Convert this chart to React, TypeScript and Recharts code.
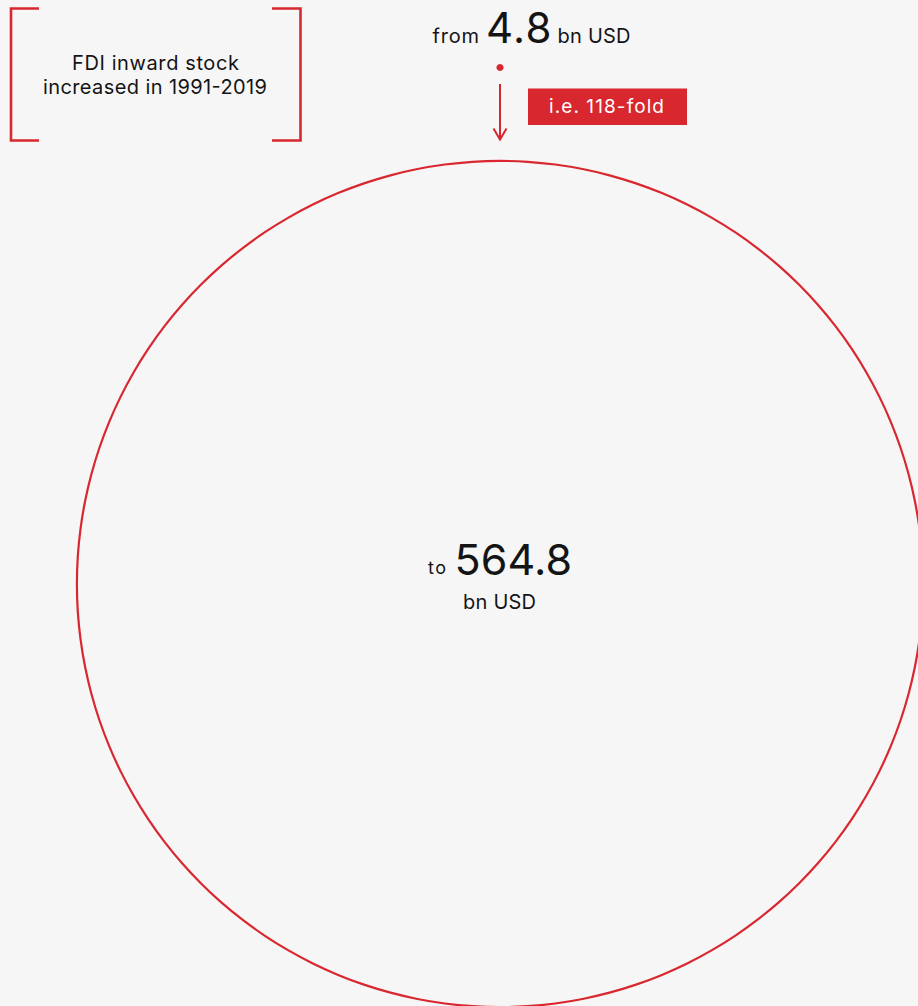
import React from 'react';
import { PieChart, Pie } from 'recharts';

// ---- data ----
const years = ['1991', '2019'];
const stockValues = [4.8, 564.8]; // bn USD
const unitLabel = 'bn USD';
const titleLines = ['FDI inward stock', `increased in ${years[0]}-${years[1]}`];
const foldFactor = Math.round(stockValues[1] / stockValues[0]);

const fromData = [{ name: years[0], value: stockValues[0] }];
const toData = [{ name: years[1], value: stockValues[1] }];

const W = 918;
const H = 1006;
const RED = '#d9272f';
const INK = '#141414';
const BG = '#f6f6f6';
const FONT = 'Inter, "Noto Sans", sans-serif';

const T = (props: any) => (
  <text fontFamily={FONT} fill={INK} lengthAdjust="spacing" {...props} />
);

export default function App() {
  return (
    <div style={{ position: 'absolute', left: 0, top: 0, width: W, height: H, overflow: 'hidden', background: BG }}>
      <PieChart width={W} height={H} margin={{ top: 0, right: 0, bottom: 0, left: 0 }}>
        <Pie
          data={toData}
          dataKey="value"
          nameKey="name"
          cx={500}
          cy={584}
          innerRadius={422}
          outerRadius={424.2}
          startAngle={90}
          endAngle={-270}
          fill={RED}
          stroke="none"
          isAnimationActive={false}
        />
        <Pie
          data={fromData}
          dataKey="value"
          nameKey="name"
          cx={500}
          cy={67.5}
          innerRadius={0}
          outerRadius={3.6}
          startAngle={90}
          endAngle={-270}
          fill={RED}
          stroke="none"
          isAnimationActive={false}
        />
        {/* bracket */}
        <path d="M39 8.5 H11 V140.5 H39" fill="none" stroke={RED} strokeWidth={2.6} />
        <path d="M272 8.5 H300.5 V140.5 H272" fill="none" stroke={RED} strokeWidth={2.6} />
        <T x={72} y={70} fontSize={20} textLength={167}>{titleLines[0]}</T>
        <T x={43} y={94} fontSize={20} textLength={224}>{titleLines[1]}</T>
        {/* from label */}
        <T x={432.5} y={42.5} fontSize={20} textLength={46.5}>from</T>
        <T x={486} y={42.5} fontSize={42} textLength={65.5}>{String(stockValues[0])}</T>
        <T x={557.5} y={42.5} fontSize={20} textLength={73}>{unitLabel}</T>
        {/* arrow */}
        <path d="M500 84 V139" fill="none" stroke={RED} strokeWidth={2} />
        <path d="M493.5 128.5 L500 139.5 L506.5 128.5" fill="none" stroke={RED} strokeWidth={2} />
        {/* fold box */}
        <rect x={528} y={88.5} width={159} height={36.5} fill={RED} />
        <T x={549} y={113} fontSize={19} fill="#ffffff" textLength={115}>
          {`i.e. ${foldFactor}-fold`}
        </T>
        {/* to label */}
        <T x={428} y={574} fontSize={18} textLength={18}>to</T>
        <T x={454.5} y={575} fontSize={43} textLength={117.5}>{String(stockValues[1])}</T>
        <T x={463} y={609} fontSize={20} textLength={73}>{unitLabel}</T>
      </PieChart>
    </div>
  );
}
